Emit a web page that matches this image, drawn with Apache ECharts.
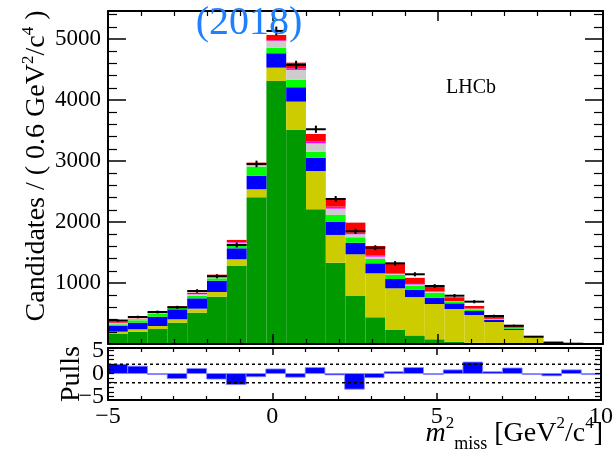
<!DOCTYPE html>
<html><head><meta charset="utf-8">
<script src="https://cdn.jsdelivr.net/npm/echarts@6/dist/echarts.min.js"></script>
<style>html,body{margin:0;padding:0;background:#fff}#c{width:616px;height:449px}</style>
</head><body><div id="c"></div>
<script>
// Binning: 25 bins of 0.6 GeV^2/c^4 starting at -5
const binStart = -5, binWidth = 0.6;
// Stacked components (bottom to top)
const compGreen   = [164,202,246,350,514,776,1279,2406,4313,3510,2209,1333,787,438,230,140,77,38,20,10,5,2,0,0,0];
const compYellow  = [38,39,49,55,65,77,110,131,218,464,628,455,684,721,683,630,579,536,456,351,225,108,33,5,1];
const compBlue    = [93,108,153,164,170,185,180,223,236,236,218,213,190,164,153,116,104,93,65,33,21,3,2,0,0];
const compLime    = [28,40,44,21,43,39,71,148,92,120,99,115,89,71,66,74,81,22,28,11,11,2,1,1,0];
const compGray    = [22,16,13,15,23,23,20,22,110,164,137,103,49,38,16,15,14,11,9,5,4,1,1,0,0];
const compMagenta = [5,5,5,5,5,10,10,15,10,27,27,33,27,16,12,10,7,5,4,3,2,1,0,0,0];
const compRed     = [19,5,10,13,21,27,36,29,89,92,126,137,164,159,163,100,78,61,41,46,32,3,3,1,0];
// Data points
const dataCounts  = [385,443,525,602,869,1110,1624,2952,5133,4576,3521,2378,1848,1579,1323,1143,951,792,694,459,300,120,21,5,0];
// Pulls
const pullValues  = [2.0,1.6,-0.1,-1.1,1.1,-1.2,-2.4,-0.7,1.0,-0.8,1.3,-0.3,-3.4,-0.9,0.4,1.3,-0.2,0.8,2.5,0.4,1.2,-0.1,-0.5,0.8,0.0];
const pullOuterLabels = [-5,5];
const pullCenterLabels = [0];
const pullTicks   = [-5,-4,-3,-2,-1,0,1,2,3,4,5];
const pullBand    = 2;

const FONT = 'Liberation Serif';
const chart = echarts.init(document.getElementById('c'), null, {renderer:'canvas'});

const bottoms = dataCounts.map(() => 0);
function stackSeries(name, vals, color) {
  const data = vals.map((v, i) => {
    const b = bottoms[i];
    bottoms[i] += v;
    return [binStart + i * binWidth, binStart + (i + 1) * binWidth, b, b + v];
  });
  return {
    type: 'custom', name, xAxisIndex: 0, yAxisIndex: 0, clip: true, z: 2,
    data, encode: {x: [0, 1], y: [2, 3]},
    renderItem: (params, api) => {
      const p0 = api.coord([api.value(0), api.value(3)]);
      const p1 = api.coord([api.value(1), api.value(2)]);
      return {type: 'rect', shape: {x: p0[0], y: p0[1], width: p1[0] - p0[0], height: p1[1] - p0[1]},
        style: {fill: color}};
    }
  };
}

const series = [
  stackSeries('green', compGreen, '#009900'),
  stackSeries('yellow', compYellow, '#cccc00'),
  stackSeries('blue', compBlue, '#0000ff'),
  stackSeries('lime', compLime, '#00ff00'),
  stackSeries('gray', compGray, '#cccccc'),
  stackSeries('magenta', compMagenta, '#ff00ff'),
  stackSeries('red', compRed, '#ff0000'),
  {
    type: 'custom', name: 'data', xAxisIndex: 0, yAxisIndex: 0, clip: true, z: 5,
    data: dataCounts.map((v, i) => [binStart + i * binWidth, binStart + (i + 1) * binWidth, v, Math.sqrt(v)]),
    encode: {x: [0, 1], y: 2},
    renderItem: (params, api) => {
      const x0 = api.value(0), x1 = api.value(1), v = api.value(2), e = api.value(3);
      const a = api.coord([x0, v]), b = api.coord([x1, v]);
      const c = api.coord([(x0 + x1) / 2, v + e]), d = api.coord([(x0 + x1) / 2, v - e]);
      return {type: 'group', children: [
        {type: 'line', shape: {x1: a[0], y1: a[1], x2: b[0], y2: b[1]}, style: {stroke: '#000', lineWidth: 2}},
        {type: 'line', shape: {x1: c[0], y1: c[1], x2: d[0], y2: d[1]}, style: {stroke: '#000', lineWidth: 2}}
      ]};
    }
  },
  {
    type: 'custom', name: 'pulls', xAxisIndex: 2, yAxisIndex: 2, clip: true, z: 2,
    data: pullValues.map((p, i) => [binStart + i * binWidth, binStart + (i + 1) * binWidth, p]),
    encode: {x: [0, 1], y: 2},
    renderItem: (params, api) => {
      const p0 = api.coord([api.value(0), Math.max(0, api.value(2))]);
      const p1 = api.coord([api.value(1), Math.min(0, api.value(2))]);
      return {type: 'rect', shape: {x: p0[0], y: p0[1], width: p1[0] - p0[0], height: Math.max(1, p1[1] - p0[1])},
        style: {fill: '#0000ff', stroke: '#8a8aff', lineWidth: 0.8}};
    }
  },
  {type: 'line', xAxisIndex: 2, yAxisIndex: 2, data: [[-5, pullBand], [10, pullBand]], symbol: 'none', silent: true, z: 3,
    lineStyle: {color: '#000', width: 1.5, type: [3, 3]}},
  {type: 'line', xAxisIndex: 2, yAxisIndex: 2, data: [[-5, -pullBand], [10, -pullBand]], symbol: 'none', silent: true, z: 3,
    lineStyle: {color: '#000', width: 1.5, type: [3, 3]}}
];

const axLine = {show: true, onZero: false, lineStyle: {color: '#000', width: 2}};
const numFmt = v => (v < 0 ? '\u2212' + Math.abs(v) : String(v));
function xAx(grid, pos, labels, major, minor) {
  return {type: 'value', gridIndex: grid, position: pos, min: -5, max: 10, interval: 5, z: 10,
    axisLine: axLine, splitLine: {show: false},
    axisTick: {show: true, inside: true, length: major, lineStyle: {color: '#000', width: 1.5}},
    minorTick: {show: true, splitNumber: 5, length: minor, lineStyle: {color: '#000', width: 1.2}},
    axisLabel: {show: labels, showMinLabel: true, showMaxLabel: true, margin: 5, color: '#000', fontFamily: FONT, fontSize: 24,
      formatter: numFmt}};
}
function yMain(pos, labels) {
  return {type: 'value', gridIndex: 0, position: pos, min: 0, max: 5460, interval: 1000, z: 10,
    axisLine: axLine, splitLine: {show: false},
    axisTick: {show: true, inside: true, length: 18, lineStyle: {color: '#000', width: 1.5}},
    minorTick: {show: true, splitNumber: 5, length: 9, lineStyle: {color: '#000', width: 1.2}},
    axisLabel: {show: labels, showMinLabel: false, showMaxLabel: false, margin: 7, color: '#000', fontFamily: FONT, fontSize: 23,
      formatter: v => String(v)}};
}
function yPull(pos, labels, labelValues, drawAxis) {
  return {type: 'value', gridIndex: 1, position: pos, min: -5.75, max: 5.55, z: 10,
    axisLine: drawAxis ? axLine : {show: false}, splitLine: {show: false},
    axisTick: {show: drawAxis, inside: true, length: 6, customValues: pullTicks, lineStyle: {color: '#000', width: 1.2}},
    axisLabel: {show: labels, customValues: labelValues, showMinLabel: true, showMaxLabel: true, hideOverlap: false,
      margin: 4, color: '#000', fontFamily: FONT, fontSize: 24,
      formatter: numFmt}};
}

chart.setOption({
  animation: false,
  backgroundColor: '#fff',
  grid: [
    {left: 108, top: 11, width: 495, height: 333},
    {left: 108, top: 348, width: 495, height: 52}
  ],
  xAxis: [xAx(0, 'bottom', false, 10, 5), xAx(0, 'top', false, 10, 5), xAx(1, 'bottom', true, 7, 4), xAx(1, 'top', false, 7, 4)],
  yAxis: [yMain('left', true), yMain('right', false),
          yPull('left', true, pullOuterLabels, true), yPull('right', false, pullOuterLabels, true),
          yPull('left', true, pullCenterLabels, false)],
  series,
  graphic: [
    {type: 'text', x: 37, y: 166, rotation: Math.PI / 2, z: 100,
      style: {text: 'Candidates / ( 0.6 GeV{sup|2}/c{sup|4} )', fill: '#000', fontFamily: FONT, fontSize: 28, lineHeight: 34,
        align: 'center', verticalAlign: 'middle',
        rich: {sup: {fontSize: 17, lineHeight: 12, verticalAlign: 'top', fontFamily: FONT, fill: '#000'}}}},
    {type: 'text', x: 72, y: 374, rotation: Math.PI / 2, z: 100,
      style: {text: 'Pulls', fill: '#000', fontFamily: FONT, fontSize: 28, align: 'center', verticalAlign: 'middle'}},
    {type: 'text', x: 603, y: 434, z: 100,
      style: {text: '{i|m}{sup|2}{sub|miss} [GeV{sup|2}/c{sup|4}]', fill: '#000', fontFamily: FONT, fontSize: 28, lineHeight: 38,
        align: 'right', verticalAlign: 'middle',
        rich: {
          i: {fontStyle: 'italic', fontSize: 28, fontFamily: FONT, fill: '#000'},
          sup: {fontSize: 17, lineHeight: 16, verticalAlign: 'top', fontFamily: FONT, fill: '#000'},
          sub: {fontSize: 18, lineHeight: 10, verticalAlign: 'bottom', fontFamily: FONT, fill: '#000'}
        }}},
    {type: 'text', x: 471, y: 88, z: 100,
      style: {text: 'LHCb', fill: '#000', fontFamily: FONT, fontSize: 20, align: 'center', verticalAlign: 'middle'}},
    {type: 'text', x: 249, y: 23, z: 100,
      style: {text: '(2018)', fill: '#1f80ff', fontFamily: FONT, fontSize: 40, align: 'center', verticalAlign: 'middle'}}
  ]
});
</script></body></html>
